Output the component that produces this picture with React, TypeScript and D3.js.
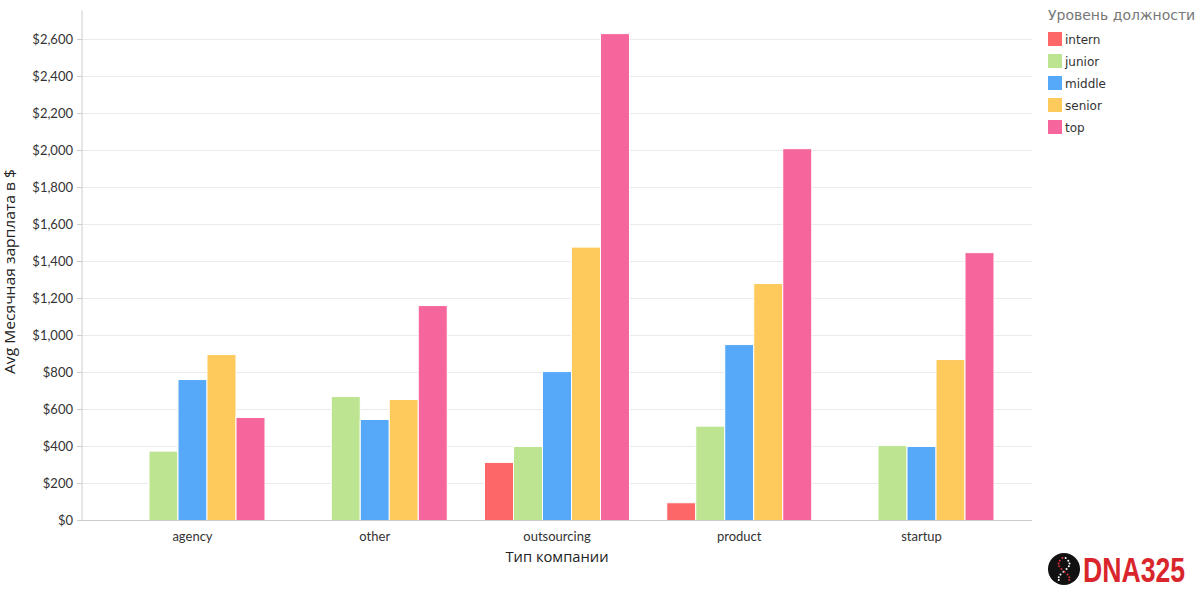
import React from "react";
import * as d3 from "d3";

const categories = ["agency", "other", "outsourcing", "product", "startup"];
const levels = ["intern", "junior", "middle", "senior", "top"];
const colors = ["#fe6767", "#bde490", "#56a9f8", "#fdca5b", "#f5679c"];

// values per level, in order of categories (null = no bar)
const intern = [null, null, 314, 96, null];
const junior = [375, 670, 400, 510, 405];
const middle = [762, 546, 805, 951, 400];
const senior = [897, 654, 1478, 1281, 870];
const top = [557, 1162, 2632, 2010, 1448];

const yTicks = [0, 200, 400, 600, 800, 1000, 1200, 1400, 1600, 1800, 2000, 2200, 2400, 2600];

const series = [intern, junior, middle, senior, top];

export default function App() {
  const width = 1200;
  const height = 600;
  const margin = { top: 10.5, right: 168, bottom: 79.5, left: 82 };
  const innerW = width - margin.left - margin.right;
  const innerH = height - margin.top - margin.bottom;

  const x0 = d3
    .scaleBand()
    .domain(categories)
    .range([0, innerW])
    .paddingInner(0.2044)
    .paddingOuter(0.2085);

  const x1 = d3.scaleBand().domain(levels).range([0, x0.bandwidth()]);

  const y = d3.scaleLinear().domain([0, 2757]).range([innerH, 0]);

  const fmt = (v: number) => "$" + d3.format(",")(v);
  const axisFont = "Lato, 'Open Sans', sans-serif";
  const titleFont = "'Open Sans', Lato, sans-serif";
  const legendFont = "'DejaVu Sans', sans-serif";

  return (
    <div style={{ position: "absolute", left: 0, top: 0 }}>
      <svg width={width} height={height} style={{ display: "block", background: "#fff" }}>
        <g transform={`translate(${margin.left},${margin.top})`}>
          {yTicks.map((t) => (
            <g key={t} transform={`translate(0,${y(t)})`}>
              {t > 0 && <line x1={0} x2={innerW} stroke="#ebebeb" strokeWidth={1} />}
              <line x1={-5} x2={0} stroke="#ccc" />
              <text
                x={-9}
                dy="0.35em"
                textAnchor="end"
                fontFamily={axisFont}
                fontSize={13}
                fill="#333"
              >
                {fmt(t)}
              </text>
            </g>
          ))}

          {categories.map((c, ci) => (
            <g key={c} transform={`translate(${x0(c)},0)`}>
              {levels.map((l, li) => {
                const v = series[li][ci];
                if (v == null) return null;
                return (
                  <rect
                    key={l}
                    x={x1(l)}
                    y={y(v)}
                    width={x1.bandwidth()}
                    height={innerH - y(v)}
                    fill={colors[li]}
                    stroke="#fff"
                    strokeWidth={1}
                  />
                );
              })}
              <text
                x={x0.bandwidth() / 2}
                y={innerH + 20}
                textAnchor="middle"
                fontFamily={axisFont}
                fontSize={13}
                fill="#333"
              >
                {c}
              </text>
            </g>
          ))}

          <line x1={0} x2={0} y1={0} y2={innerH} stroke="#ccc" />
          <line x1={0} x2={innerW} y1={innerH} y2={innerH} stroke="#ccc" />

          <text
            x={innerW / 2}
            y={innerH + 41}
            textAnchor="middle"
            fontFamily={titleFont}
            fontSize={14.5}
            fill="#222"
            textLength={103}
            lengthAdjust="spacingAndGlyphs"
          >
            Тип компании
          </text>
          <text
            transform={`translate(${-67},${innerH / 2 + 6}) rotate(-90)`}
            textAnchor="middle"
            fontFamily={titleFont}
            fontSize={14.5}
            fill="#222"
            textLength={205}
            lengthAdjust="spacingAndGlyphs"
          >
            Avg Месячная зарплата в $
          </text>
        </g>

        <g transform="translate(1048,0)">
          <text x={0} y={20} fontFamily={legendFont} fontSize={14} fill="#777">
            Уровень должности
          </text>
          {levels.map((l, i) => (
            <g key={l} transform={`translate(0,${32 + i * 22})`}>
              <rect width={14} height={14} fill={colors[i]} />
              <text x={17} y={11.5} fontFamily={legendFont} fontSize={12} fill="#333">
                {l}
              </text>
            </g>
          ))}
        </g>

        <g transform="translate(1064,569)">
          <circle r={16} fill="#111" />
          {d3.range(9).map((i) => {
            const t = i / 8;
            const yy = -11 + t * 22;
            const dx = Math.sin(t * Math.PI * 1.5 + 0.3) * 5.5;
            return (
              <g key={i}>
                <circle cx={dx} cy={yy} r={1} fill="#fff" />
                <circle cx={-dx} cy={yy} r={1} fill="#e0323a" />
              </g>
            );
          })}
          <g transform="translate(19,13) scale(0.74,1)">
            <text
              x={0}
              y={0}
              fontFamily="'Liberation Sans', Arial, sans-serif"
              fontWeight="bold"
              fontSize={36}
              fill="#d9262c"
            >
              DNA325
            </text>
          </g>
        </g>
      </svg>
    </div>
  );
}
